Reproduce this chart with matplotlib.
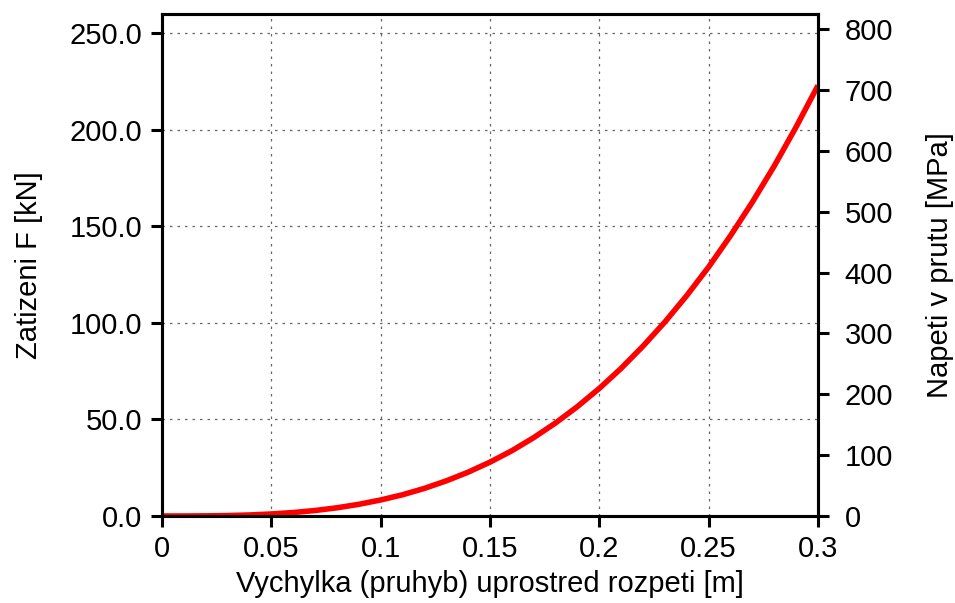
import matplotlib
matplotlib.use("Agg")
import matplotlib.pyplot as plt
from matplotlib.ticker import FormatStrFormatter

plt.rcParams["font.family"] = ["Liberation Sans", "DejaVu Sans"]

# values
deflection = [0.00, 0.01, 0.02, 0.03, 0.04, 0.05, 0.06, 0.07, 0.08, 0.09,
              0.10, 0.11, 0.12, 0.13, 0.14, 0.15, 0.16, 0.17, 0.18, 0.19,
              0.20, 0.21, 0.22, 0.23, 0.24, 0.25, 0.26, 0.27, 0.28, 0.29, 0.30]
load_kn = [0.0, 0.01, 0.07, 0.22, 0.53, 1.05, 1.8, 2.85, 4.25, 6.05,
           8.3, 11.0, 14.3, 18.2, 22.7, 27.9, 33.8, 40.6, 48.2, 56.7,
           66.1, 76.5, 88.0, 100.5, 114.2, 129.0, 145.2, 162.6, 181.3, 201.5, 223.0]

x_ticks = [0, 0.05, 0.1, 0.15, 0.2, 0.25, 0.3]
x_tick_labels = ["0", "0.05", "0.1", "0.15", "0.2", "0.25", "0.3"]
left_ticks = [0, 50, 100, 150, 200, 250]
right_ticks = [0, 100, 200, 300, 400, 500, 600, 700, 800]

FS = 21

fig = plt.figure(figsize=(9.55, 6.03), dpi=100)
ax = fig.add_axes([162 / 955, 1 - 516 / 603, 656 / 955, 502 / 603])

ax.plot(deflection, load_kn, color="#ff0000", linewidth=4.0, solid_capstyle="butt", zorder=3)

ax.set_xlim(0, 0.3)
ax.set_ylim(0, 260)
ax.set_xticks(x_ticks)
ax.set_xticklabels(x_tick_labels)
ax.set_yticks(left_ticks)
ax.yaxis.set_major_formatter(FormatStrFormatter("%.1f"))
ax.grid(True, color="#666666", linestyle=(0, (2, 4)), linewidth=0.9)
ax.tick_params(direction="out", length=8, width=2.2, labelsize=FS)
ax.tick_params(axis="y", pad=6)
ax.tick_params(axis="x", pad=6)
for s in ax.spines.values():
    s.set_linewidth(2.2)

ax.set_xlabel("Vychylka (pruhyb) uprostred rozpeti [m]", fontsize=FS, labelpad=5)
ax.set_ylabel("Zatizeni F [kN]", fontsize=FS, labelpad=19)

ax2 = ax.twinx()
ax2.set_ylim(0, 825)
ax2.set_yticks(right_ticks)
ax2.tick_params(direction="out", length=8, width=2.2, labelsize=FS, pad=11)
for s in ax2.spines.values():
    s.set_linewidth(2.2)
ax2.set_ylabel("Napeti v prutu [MPa]", fontsize=FS, labelpad=24)

fig.savefig("out.png", dpi=100)
plt.close(fig)
